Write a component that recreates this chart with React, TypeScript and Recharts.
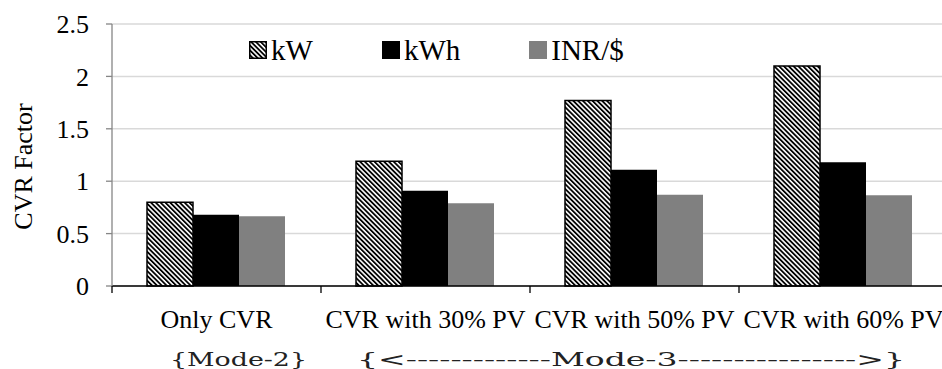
import React from 'react';
import { BarChart, Bar, XAxis, YAxis, CartesianGrid } from 'recharts';

const categories = ['Only CVR', 'CVR with 30% PV', 'CVR with 50% PV', 'CVR with 60% PV'];
const kwValues = [0.8, 1.19, 1.77, 2.1];
const kwhValues = [0.68, 0.91, 1.11, 1.18];
const inrValues = [0.665, 0.79, 0.87, 0.865];
const yTicks = [0, 0.5, 1, 1.5, 2, 2.5];
const modeLabels = ['{Mode-2}', '{<-------------Mode-3---------------->}'];

const SERIF = '"Liberation Serif", "Times New Roman", serif';

const series = [
  { key: 'kW', label: 'kW', fill: 'url(#kwHatch)', stroke: '#000' },
  { key: 'kWh', label: 'kWh', fill: '#000', stroke: 'none' },
  { key: 'inr', label: 'INR/$', fill: '#808080', stroke: 'none' },
];

const data = categories.map((name, i) => ({
  name,
  kW: kwValues[i],
  kWh: kwhValues[i],
  inr: inrValues[i],
}));

function CategoryTick(props: any) {
  const { x, y, payload, width, visibleTicksCount } = props;
  const band = width && visibleTicksCount ? width / visibleTicksCount : 209;
  const left = x - band / 2;
  return (
    <g>
      <line x1={left} x2={left} y1={y} y2={y + 7} stroke="#000" strokeWidth={1.3} />
      <text x={x} y={y + 42} textAnchor="middle" style={{ fontFamily: SERIF, fontSize: 26 }} fill="#000">
        {payload.value}
      </text>
    </g>
  );
}

function LegendIcon({ fill, stroke }: { fill: string; stroke: string }) {
  const inset = stroke === 'none' ? 0 : 0.75;
  return (
    <svg width={18} height={18} style={{ display: 'block' }}>
      <rect
        x={inset}
        y={inset}
        width={18 - inset * 2}
        height={18 - inset * 2}
        fill={fill}
        stroke={stroke}
        strokeWidth={1.5}
      />
    </svg>
  );
}

export default function App() {
  return (
    <div
      style={{
        position: 'absolute',
        left: 0,
        top: 0,
        width: 942,
        height: 369,
        overflow: 'hidden',
        background: '#fff',
      }}
    >
      <svg width={0} height={0} style={{ position: 'absolute' }}>
        <defs>
          <pattern
            id="kwHatch"
            patternUnits="userSpaceOnUse"
            width={3.4}
            height={3.4}
            patternTransform="rotate(-45)"
          >
            <rect width={3.4} height={3.4} fill="#fff" />
            <rect width={1.8} height={3.4} fill="#000" />
          </pattern>
        </defs>
      </svg>

      <BarChart
        width={960}
        height={369}
        data={data}
        margin={{ top: 24, right: 12, bottom: 43, left: 0 }}
        barCategoryGap={35}
        barGap={0}
      >
        <CartesianGrid vertical={false} stroke="#d9d9d9" strokeWidth={1.5} />
        <XAxis
          dataKey="name"
          height={40}
          interval={0}
          tickSize={0}
          tickMargin={0}
          tickLine={false}
          axisLine={{ stroke: '#000', strokeWidth: 1.5 }}
          tick={<CategoryTick />}
        />
        <YAxis
          width={112}
          domain={[0, 2.5]}
          ticks={yTicks}
          interval={0}
          tickSize={6}
          tickMargin={17}
          axisLine={{ stroke: '#868686', strokeWidth: 1.3 }}
          tickLine={{ stroke: '#868686', strokeWidth: 1.3 }}
          tick={{ fill: '#000', fontSize: 26, style: { fontFamily: SERIF } }}
          label={{
            content: () => (
              <text
                transform="translate(31.5,166.5) rotate(-90)"
                textAnchor="middle"
                style={{ fontFamily: SERIF, fontSize: 26 }}
                fill="#000"
              >
                CVR Factor
              </text>
            ),
          }}
        />
        {series.map((s) => (
          <Bar
            key={s.key}
            dataKey={s.key}
            name={s.label}
            fill={s.fill}
            stroke={s.stroke}
            strokeWidth={s.stroke === 'none' ? 0 : 1.5}
            isAnimationActive={false}
          />
        ))}
      </BarChart>

      {/* legend */}
      <div
        style={{
          position: 'absolute',
          left: 249,
          top: 33,
          display: 'flex',
          alignItems: 'center',
          gap: 69,
          fontFamily: SERIF,
          fontSize: 29,
          lineHeight: '34px',
          color: '#000',
        }}
      >
        {series.map((s) => (
          <div key={s.key} style={{ display: 'flex', alignItems: 'center', gap: 4 }}>
            <LegendIcon fill={s.fill} stroke={s.stroke} />
            <span>{s.label}</span>
          </div>
        ))}
      </div>

      {/* mode annotations under the axis */}
      <svg
        width={942}
        height={369}
        style={{ position: 'absolute', left: 0, top: 0, pointerEvents: 'none' }}
      >
        <text
          x={170}
          y={366}
          textLength={137}
          lengthAdjust="spacingAndGlyphs"
          style={{ fontFamily: 'DejaVu Serif, serif', fontSize: 18 }}
          fill="#222"
        >
          {modeLabels[0]}
        </text>
        <text
          x={357}
          y={366}
          textLength={548}
          lengthAdjust="spacingAndGlyphs"
          style={{ fontFamily: 'DejaVu Serif, serif', fontSize: 18 }}
          fill="#222"
        >
          {modeLabels[1]}
        </text>
      </svg>
    </div>
  );
}
